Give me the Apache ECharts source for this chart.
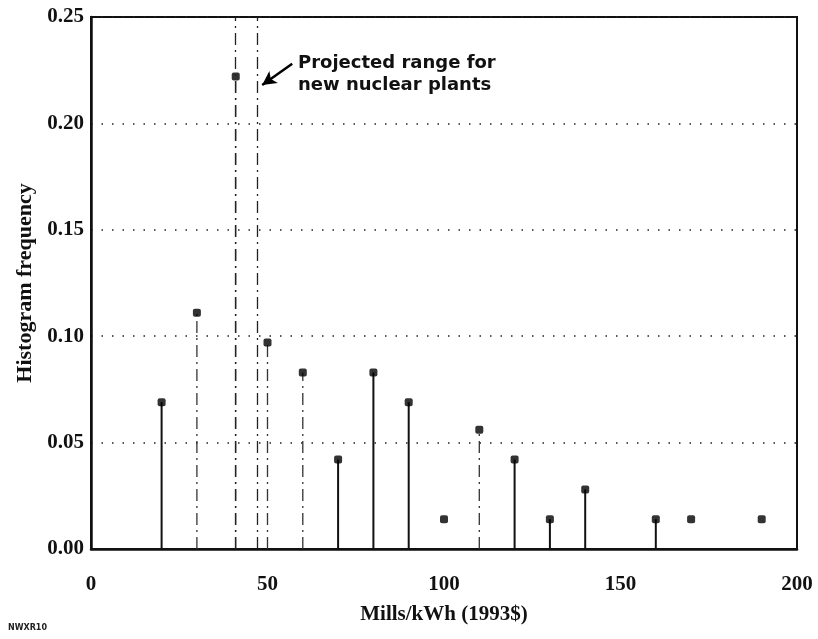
<!DOCTYPE html>
<html>
<head>
<meta charset="utf-8">
<script src="https://cdn.jsdelivr.net/npm/echarts@6/dist/echarts.min.js"></script>
<style>
  html, body { margin: 0; padding: 0; background: #fff; }
  #main { width: 818px; height: 639px; }
</style>
</head>
<body>
<div id="main"></div>
<script>
// levelized cost bins (mills/kWh) and histogram frequency
const costs = [20, 30, 41, 50, 60, 70, 80, 90, 100, 110, 120, 130, 140, 160, 170, 190];
const freqs = [0.069, 0.111, 0.222, 0.097, 0.083, 0.042, 0.083, 0.069, 0.014, 0.056, 0.042, 0.014, 0.028, 0.014, 0.014, 0.014];
// bins whose stem is drawn broken / not drawn at all
const dashedStems = [30, 41, 50, 60, 110];
const noStems = [100, 170, 190];
// projected range for new nuclear plants
const projectedRange = [41, 47];
const xTicks = [0, 200, 50];
const yTicks = [0, 0.25, 0.05];

const serif = '"Liberation Serif", "DejaVu Serif", serif';

const chart = echarts.init(document.getElementById('main'));

const stemData = costs.map((c, i) => [c, freqs[i]]);

const option = {
  animation: false,
  backgroundColor: '#fff',
  grid: {
    left: 91, right: 21, top: 17, bottom: 90,
    outerBoundsMode: 'none',
    show: true, borderColor: '#111', borderWidth: 2
  },
  xAxis: {
    type: 'value',
    min: xTicks[0], max: xTicks[1], interval: xTicks[2],
    name: 'Mills/kWh (1993$)',
    nameLocation: 'middle',
    nameGap: 55,
    nameTextStyle: { fontFamily: serif, fontWeight: 'bold', fontSize: 21, color: '#111' },
    axisLine: { lineStyle: { color: '#111', width: 2.5 } },
    axisTick: { show: false },
    axisLabel: { margin: 25, fontFamily: serif, fontWeight: 'bold', fontSize: 21, color: '#111' },
    splitLine: { show: false }
  },
  yAxis: {
    type: 'value',
    min: yTicks[0], max: yTicks[1], interval: yTicks[2],
    name: 'Histogram frequency',
    nameLocation: 'middle',
    nameGap: 55,
    nameTextStyle: { fontFamily: serif, fontWeight: 'bold', fontSize: 22, color: '#111' },
    axisLine: { lineStyle: { color: '#111', width: 2.5 } },
    axisTick: { show: false },
    axisLabel: {
      margin: 7, fontFamily: serif, fontWeight: 'bold', fontSize: 21, color: '#111',
      formatter: v => v.toFixed(2)
    },
    splitLine: { show: true, lineStyle: { color: '#222', width: 1.5, type: [1.5, 9] } }
  },
  series: [
    {
      // stems
      type: 'custom',
      renderItem: (params, api) => {
        const x = api.value(0);
        if (noStems.includes(x)) return null;
        const p0 = api.coord([x, 0]);
        const p1 = api.coord([x, api.value(1)]);
        const dashed = dashedStems.includes(x);
        return {
          type: 'line',
          shape: { x1: p0[0], y1: p0[1], x2: p1[0], y2: p1[1] },
          style: {
            stroke: dashed ? '#333' : '#111',
            lineWidth: dashed ? 1.3 : 2,
            lineDash: dashed ? [12, 5, 2, 5] : null
          }
        };
      },
      encode: { x: 0, y: 1 },
      data: stemData,
      z: 3
    },
    {
      type: 'scatter',
      symbol: 'roundRect',
      symbolSize: 8,
      itemStyle: { color: '#000' },
      data: stemData,
      z: 4,
      markLine: {
        silent: true,
        symbol: ['none', 'none'],
        label: { show: false },
        lineStyle: { color: '#222', width: 1.3, type: [12, 5, 2, 5] },
        data: projectedRange.map(v => ({ xAxis: v }))
      }
    },
    {
      // annotation arrow
      type: 'line',
      data: [],
      markLine: {
        silent: true,
        symbol: ['none', 'arrow'],
        symbolSize: [11, 14],
        label: { show: false },
        lineStyle: { color: '#000', width: 2.5, type: 'solid' },
        data: [[{ coord: [57, 0.228] }, { coord: [48.5, 0.218] }]]
      }
    }
  ],
  graphic: [
    {
      type: 'text', left: 298, top: 52,
      style: {
        text: 'Projected range for\nnew nuclear plants',
        font: 'bold 18px "DejaVu Sans", sans-serif',
        lineHeight: 22, fill: '#111'
      }
    },
    {
      type: 'text', left: 8, top: 624,
      style: { text: 'NWXR10', font: 'bold 8px "DejaVu Sans", sans-serif', fill: '#222' }
    }
  ]
};

chart.setOption(option);
</script>
</body>
</html>
